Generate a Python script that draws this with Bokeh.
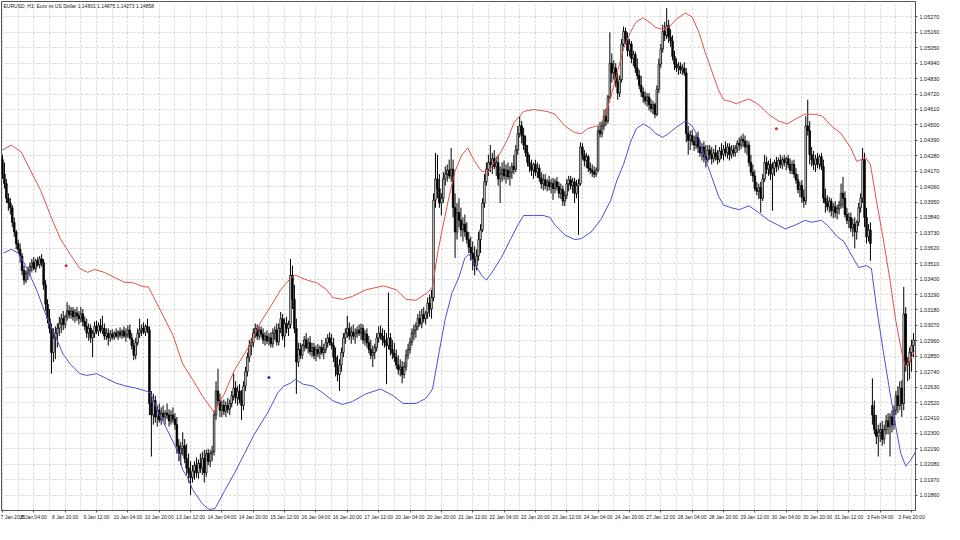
from bokeh.plotting import figure
from bokeh.models import Range1d, FixedTicker, PrintfTickFormatter, Label, ColumnDataSource
from bokeh.embed import file_html
from bokeh.resources import INLINE

# ---------------- data (EURUSD H1) ----------------
opens = [
1.04252, 1.04149, 1.04081, 1.03977, 1.03943, 1.03909, 1.03806, 1.03737, 1.03654, 1.03613,
1.03565, 1.03462, 1.03393, 1.03441, 1.03462, 1.03489, 1.03517, 1.03476, 1.03531, 1.03503,
1.03544, 1.03517, 1.03359, 1.03221, 1.03118, 1.03049, 1.02877, 1.02981, 1.03015, 1.03049,
1.03084, 1.03118, 1.03077, 1.03132, 1.03173, 1.03146, 1.03173, 1.03132, 1.03159, 1.03139,
1.03118, 1.03152, 1.03097, 1.03063, 1.03015, 1.03049, 1.02981, 1.03015, 1.03063, 1.03029,
1.03070, 1.03036, 1.03049, 1.02994, 1.03015, 1.02981, 1.03008, 1.02987, 1.03015, 1.02994,
1.03022, 1.03001, 1.03029, 1.02994, 1.03008, 1.03036, 1.02981, 1.02926, 1.02857, 1.02946,
1.03015, 1.03036, 1.03049, 1.03022, 1.03063, 1.03036, 1.02513, 1.02431, 1.02534, 1.02417,
1.02465, 1.02396, 1.02444, 1.02417, 1.02444, 1.02431, 1.02389, 1.02431, 1.02403, 1.02362,
1.02211, 1.02156, 1.02190, 1.02211, 1.02121, 1.02052, 1.02018, 1.01984, 1.02032, 1.02073,
1.02018, 1.02087, 1.02052, 1.02121, 1.02018, 1.02156, 1.02101, 1.02156, 1.02169, 1.02431,
1.02602, 1.02534, 1.02465, 1.02499, 1.02458, 1.02499, 1.02472, 1.02513, 1.02568, 1.02623,
1.02554, 1.02602, 1.02541, 1.02499, 1.02637, 1.02740, 1.02843, 1.02926, 1.02946, 1.03015,
1.03049, 1.02994, 1.03036, 1.03008, 1.02967, 1.02994, 1.02960, 1.02981, 1.02939, 1.03015,
1.03036, 1.02953, 1.03049, 1.03118, 1.02994, 1.03084, 1.03049, 1.03077, 1.03427, 1.03256,
1.03049, 1.02809, 1.02898, 1.02857, 1.02926, 1.02967, 1.02912, 1.02946, 1.02884, 1.02912,
1.02857, 1.02898, 1.02871, 1.02912, 1.02877, 1.02898, 1.02946, 1.02981, 1.02946, 1.02926,
1.02843, 1.02774, 1.02719, 1.02788, 1.02877, 1.02981, 1.03015, 1.03049, 1.02994, 1.03022,
1.02994, 1.03015, 1.03036, 1.03015, 1.03049, 1.02967, 1.03008, 1.02946, 1.02898, 1.02857,
1.02877, 1.02912, 1.02981, 1.03015, 1.02994, 1.02967, 1.02946, 1.02926, 1.02981, 1.02898,
1.02871, 1.02843, 1.02788, 1.02754, 1.02774, 1.02719, 1.02774, 1.02857, 1.02898, 1.02953,
1.03015, 1.03036, 1.03063, 1.03118, 1.03084, 1.03146, 1.03118, 1.03159, 1.03228, 1.03187,
1.03269, 1.03964, 1.04115, 1.04046, 1.03943, 1.03977, 1.04115, 1.04149, 1.04177, 1.04136,
1.04184, 1.03909, 1.03737, 1.03874, 1.03819, 1.03751, 1.03792, 1.03737, 1.03682, 1.03627,
1.03586, 1.03544, 1.03496, 1.03565, 1.03682, 1.03751, 1.03943, 1.04094, 1.04184, 1.04232,
1.04218, 1.04259, 1.04204, 1.04232, 1.04115, 1.04149, 1.04184, 1.04136, 1.04177, 1.04129,
1.04163, 1.04204, 1.04184, 1.04321, 1.04438, 1.04493, 1.04424, 1.04356, 1.04301, 1.04232,
1.04204, 1.04177, 1.04218, 1.04163, 1.04191, 1.04122, 1.04081, 1.04108, 1.04067, 1.04094,
1.04060, 1.04081, 1.04046, 1.04094, 1.04060, 1.04012, 1.04039, 1.03957, 1.03998, 1.04081,
1.04108, 1.04067, 1.04094, 1.04012, 1.04067, 1.04081, 1.04342, 1.04287, 1.04246, 1.04273,
1.04191, 1.04177, 1.04163, 1.04149, 1.04177, 1.04459, 1.04438, 1.04493, 1.04562, 1.04527,
1.04699, 1.04940, 1.04871, 1.04906, 1.04802, 1.04727, 1.04823, 1.05077, 1.05167, 1.05112,
1.05029, 1.05077, 1.04974, 1.05002, 1.04906, 1.04851, 1.04782, 1.04734, 1.04699, 1.04672,
1.04699, 1.04644, 1.04617, 1.04644, 1.04576, 1.04754, 1.04933, 1.05043, 1.05167, 1.05139,
1.05208, 1.05126, 1.05098, 1.04988, 1.04933, 1.04906, 1.04919, 1.04892, 1.04906, 1.04871,
1.04438, 1.04390, 1.04424, 1.04383, 1.04356, 1.04411, 1.04342, 1.04301, 1.04342, 1.04273,
1.04252, 1.04321, 1.04287, 1.04259, 1.04301, 1.04273, 1.04252, 1.04314, 1.04287, 1.04328,
1.04301, 1.04342, 1.04287, 1.04321, 1.04301, 1.04335, 1.04369, 1.04356, 1.04397, 1.04383,
1.04342, 1.04356, 1.04232, 1.04163, 1.04136, 1.04046, 1.04026, 1.04053, 1.03977, 1.04115,
1.04232, 1.04184, 1.04218, 1.04149, 1.04191, 1.04232, 1.04204, 1.04246, 1.04218, 1.04252,
1.04232, 1.04259, 1.04218, 1.04177, 1.04218, 1.04149, 1.04108, 1.04039, 1.04067, 1.03984,
1.03957, 1.04493, 1.04459, 1.04287, 1.04252, 1.04218, 1.04259, 1.04218, 1.04273, 1.04204,
1.03977, 1.03943, 1.03916, 1.03957, 1.03888, 1.03916, 1.03874, 1.03902, 1.03929, 1.04012,
1.03977, 1.03861, 1.03819, 1.03840, 1.03764, 1.03792, 1.03737, 1.03806, 1.03909, 1.03977,
1.04252, 1.03840, 1.03702, 1.03751, 1.02499, 1.02431, 1.02327, 1.02279, 1.02307, 1.02327,
1.02259, 1.02327, 1.02389, 1.02348, 1.02417, 1.02362, 1.02465, 1.02568, 1.02499, 1.02623,
1.02513, 1.03152, 1.02788, 1.02809, 1.02877, 1.02926,
]
highs = [
1.04287, 1.04232, 1.04115, 1.04012, 1.03977, 1.03929, 1.03840, 1.03751, 1.03682, 1.03654,
1.03586, 1.03496, 1.03462, 1.03489, 1.03517, 1.03544, 1.03558, 1.03544, 1.03558, 1.03565,
1.03579, 1.03544, 1.03393, 1.03256, 1.03187, 1.03084, 1.03049, 1.03063, 1.03084, 1.03132,
1.03152, 1.03173, 1.03146, 1.03235, 1.03214, 1.03201, 1.03201, 1.03187, 1.03201, 1.03173,
1.03201, 1.03187, 1.03132, 1.03118, 1.03084, 1.03077, 1.03036, 1.03097, 1.03104, 1.03091,
1.03118, 1.03139, 1.03084, 1.03049, 1.03049, 1.03036, 1.03042, 1.03029, 1.03049, 1.03036,
1.03056, 1.03042, 1.03063, 1.03049, 1.03070, 1.03077, 1.03015, 1.02967, 1.02981, 1.03049,
1.03118, 1.03077, 1.03091, 1.03077, 1.03118, 1.03063, 1.02602, 1.02582, 1.02568, 1.02499,
1.02513, 1.02486, 1.02499, 1.02465, 1.02513, 1.02472, 1.02465, 1.02486, 1.02444, 1.02417,
1.02259, 1.02238, 1.02307, 1.02259, 1.02224, 1.02156, 1.02101, 1.02073, 1.02101, 1.02128,
1.02114, 1.02156, 1.02169, 1.02183, 1.02183, 1.02190, 1.02183, 1.02211, 1.02465, 1.02671,
1.02761, 1.02582, 1.02534, 1.02541, 1.02527, 1.02554, 1.02541, 1.02602, 1.02726, 1.02671,
1.02637, 1.02651, 1.02609, 1.02671, 1.02774, 1.02877, 1.02967, 1.02981, 1.03049, 1.03084,
1.03077, 1.03063, 1.03063, 1.03049, 1.03022, 1.03036, 1.03015, 1.03022, 1.03049, 1.03063,
1.03084, 1.03084, 1.03166, 1.03152, 1.03118, 1.03132, 1.03104, 1.03544, 1.03496, 1.03359,
1.03118, 1.02946, 1.02946, 1.02939, 1.02994, 1.03015, 1.02981, 1.02994, 1.02946, 1.02946,
1.02926, 1.02939, 1.02926, 1.02967, 1.02939, 1.02981, 1.03008, 1.03022, 1.03008, 1.02981,
1.02912, 1.02857, 1.02829, 1.02912, 1.03015, 1.03049, 1.03139, 1.03091, 1.03063, 1.03077,
1.03049, 1.03063, 1.03077, 1.03084, 1.03077, 1.03036, 1.03049, 1.02994, 1.02967, 1.02926,
1.02939, 1.03015, 1.03063, 1.03070, 1.03049, 1.03036, 1.03015, 1.03304, 1.03015, 1.02967,
1.02946, 1.02898, 1.02857, 1.02829, 1.02816, 1.02809, 1.02898, 1.02939, 1.02981, 1.03049,
1.03077, 1.03091, 1.03152, 1.03173, 1.03187, 1.03201, 1.03173, 1.03269, 1.03290, 1.03324,
1.04012, 1.04301, 1.04287, 1.04149, 1.04012, 1.04163, 1.04204, 1.04218, 1.04252, 1.04335,
1.04252, 1.04012, 1.03943, 1.03977, 1.03909, 1.03840, 1.03861, 1.03806, 1.03737, 1.03702,
1.03668, 1.03634, 1.03613, 1.03737, 1.03792, 1.03977, 1.04149, 1.04232, 1.04287, 1.04356,
1.04301, 1.04321, 1.04273, 1.04287, 1.04204, 1.04232, 1.04246, 1.04218, 1.04232, 1.04204,
1.04232, 1.04287, 1.04356, 1.04493, 1.04562, 1.04527, 1.04479, 1.04424, 1.04356, 1.04287,
1.04252, 1.04232, 1.04252, 1.04232, 1.04218, 1.04163, 1.04149, 1.04149, 1.04115, 1.04136,
1.04115, 1.04122, 1.04115, 1.04129, 1.04094, 1.04081, 1.04067, 1.04026, 1.04115, 1.04136,
1.04136, 1.04122, 1.04122, 1.04108, 1.04115, 1.04376, 1.04369, 1.04321, 1.04301, 1.04287,
1.04232, 1.04218, 1.04204, 1.04197, 1.04493, 1.04521, 1.04521, 1.04610, 1.04617, 1.04713,
1.05160, 1.05009, 1.04961, 1.04940, 1.04871, 1.04851, 1.05112, 1.05201, 1.05194, 1.05160,
1.05112, 1.05098, 1.05029, 1.05022, 1.04974, 1.04892, 1.04851, 1.04768, 1.04741, 1.04727,
1.04727, 1.04686, 1.04672, 1.04658, 1.04782, 1.04974, 1.05077, 1.05215, 1.05236, 1.05332,
1.05249, 1.05181, 1.05139, 1.05029, 1.04974, 1.04947, 1.04947, 1.04933, 1.04947, 1.04906,
1.04493, 1.04459, 1.04466, 1.04424, 1.04438, 1.04452, 1.04390, 1.04369, 1.04383, 1.04356,
1.04356, 1.04356, 1.04342, 1.04328, 1.04356, 1.04321, 1.04342, 1.04369, 1.04356, 1.04383,
1.04369, 1.04369, 1.04356, 1.04356, 1.04356, 1.04390, 1.04411, 1.04424, 1.04438, 1.04424,
1.04390, 1.04383, 1.04287, 1.04218, 1.04177, 1.04094, 1.04081, 1.04094, 1.04149, 1.04287,
1.04273, 1.04246, 1.04259, 1.04232, 1.04252, 1.04273, 1.04266, 1.04287, 1.04273, 1.04287,
1.04273, 1.04287, 1.04259, 1.04246, 1.04252, 1.04191, 1.04149, 1.04094, 1.04108, 1.04039,
1.04562, 1.04679, 1.04527, 1.04342, 1.04314, 1.04287, 1.04301, 1.04287, 1.04301, 1.04252,
1.04046, 1.03998, 1.03984, 1.03977, 1.03943, 1.03957, 1.03929, 1.03957, 1.04081, 1.04129,
1.04026, 1.03909, 1.03874, 1.03874, 1.03833, 1.03840, 1.03819, 1.03943, 1.04012, 1.04335,
1.04301, 1.03909, 1.03792, 1.03806, 1.02692, 1.02534, 1.02431, 1.02362, 1.02376, 1.02389,
1.02362, 1.02431, 1.02444, 1.02444, 1.02465, 1.02499, 1.02602, 1.02637, 1.02671, 1.02678,
1.03345, 1.03201, 1.02843, 1.02912, 1.02967, 1.03015,
]
lows = [
1.04115, 1.04046, 1.03943, 1.03888, 1.03861, 1.03771, 1.03702, 1.03613, 1.03586, 1.03517,
1.03427, 1.03359, 1.03372, 1.03393, 1.03421, 1.03448, 1.03462, 1.03448, 1.03489, 1.03476,
1.03489, 1.03324, 1.03173, 1.03084, 1.03015, 1.02726, 1.02809, 1.02829, 1.02912, 1.02994,
1.03015, 1.03036, 1.03049, 1.03104, 1.03118, 1.03118, 1.03104, 1.03091, 1.03104, 1.03077,
1.03091, 1.03063, 1.03036, 1.02981, 1.02960, 1.02946, 1.02843, 1.02981, 1.03008, 1.02994,
1.03015, 1.03008, 1.02967, 1.02967, 1.02926, 1.02953, 1.02967, 1.02967, 1.02981, 1.02967,
1.02981, 1.02974, 1.02981, 1.02953, 1.02981, 1.02967, 1.02898, 1.02822, 1.02829, 1.02926,
1.02981, 1.02994, 1.03008, 1.02994, 1.03015, 1.02431, 1.02135, 1.02362, 1.02376, 1.02348,
1.02376, 1.02362, 1.02389, 1.02362, 1.02403, 1.02348, 1.02362, 1.02376, 1.02327, 1.02156,
1.02101, 1.02073, 1.02142, 1.02087, 1.02004, 1.01949, 1.01860, 1.01949, 1.01970, 1.01984,
1.01977, 1.02018, 1.02004, 1.01949, 1.01991, 1.02073, 1.02059, 1.02101, 1.02142, 1.02396,
1.02499, 1.02417, 1.02417, 1.02431, 1.02417, 1.02444, 1.02431, 1.02486, 1.02534, 1.02513,
1.02499, 1.02513, 1.02396, 1.02465, 1.02602, 1.02706, 1.02809, 1.02857, 1.02912, 1.02981,
1.02967, 1.02967, 1.02981, 1.02939, 1.02926, 1.02939, 1.02926, 1.02912, 1.02912, 1.02967,
1.02926, 1.02926, 1.03015, 1.02967, 1.02912, 1.03015, 1.02994, 1.03049, 1.03187, 1.03015,
1.02582, 1.02774, 1.02829, 1.02829, 1.02884, 1.02898, 1.02871, 1.02857, 1.02843, 1.02829,
1.02816, 1.02843, 1.02829, 1.02857, 1.02829, 1.02871, 1.02912, 1.02926, 1.02898, 1.02809,
1.02706, 1.02671, 1.02602, 1.02740, 1.02843, 1.02939, 1.02981, 1.02967, 1.02939, 1.02967,
1.02939, 1.02981, 1.02994, 1.02967, 1.02939, 1.02926, 1.02912, 1.02871, 1.02829, 1.02774,
1.02829, 1.02884, 1.02946, 1.02967, 1.02926, 1.02912, 1.02651, 1.02898, 1.02857, 1.02829,
1.02809, 1.02761, 1.02719, 1.02706, 1.02657, 1.02692, 1.02747, 1.02829, 1.02871, 1.02926,
1.02967, 1.02981, 1.03036, 1.03063, 1.03049, 1.03091, 1.03077, 1.03118, 1.03132, 1.03118,
1.03242, 1.03909, 1.03977, 1.03909, 1.03854, 1.03943, 1.04067, 1.04094, 1.04115, 1.04094,
1.03840, 1.03551, 1.03682, 1.03771, 1.03702, 1.03668, 1.03702, 1.03654, 1.03586, 1.03531,
1.03462, 1.03427, 1.03462, 1.03531, 1.03586, 1.03737, 1.03909, 1.04067, 1.04136, 1.04163,
1.04149, 1.04184, 1.04136, 1.04067, 1.03943, 1.04094, 1.04108, 1.04081, 1.04108, 1.04067,
1.04115, 1.04149, 1.04163, 1.04287, 1.04411, 1.04369, 1.04321, 1.04273, 1.04204, 1.04163,
1.04136, 1.04115, 1.04136, 1.04122, 1.04094, 1.04046, 1.04032, 1.04039, 1.04026, 1.04032,
1.04012, 1.03964, 1.04012, 1.04032, 1.03977, 1.03971, 1.03922, 1.03922, 1.03971, 1.04026,
1.04039, 1.04012, 1.03943, 1.03977, 1.03716, 1.04067, 1.04252, 1.04204, 1.04191, 1.04163,
1.04149, 1.04129, 1.04122, 1.04129, 1.04163, 1.04411, 1.04411, 1.04466, 1.04493, 1.04507,
1.04686, 1.04802, 1.04823, 1.04768, 1.04679, 1.04699, 1.04802, 1.05057, 1.05077, 1.04988,
1.04988, 1.04940, 1.04919, 1.04871, 1.04823, 1.04754, 1.04699, 1.04658, 1.04644, 1.04631,
1.04603, 1.04589, 1.04576, 1.04548, 1.04562, 1.04727, 1.04906, 1.05016, 1.05098, 1.05112,
1.05084, 1.05057, 1.04961, 1.04892, 1.04878, 1.04857, 1.04864, 1.04857, 1.04851, 1.04376,
1.04287, 1.04321, 1.04356, 1.04314, 1.04328, 1.04301, 1.04273, 1.04246, 1.04232, 1.04197,
1.04232, 1.04252, 1.04218, 1.04232, 1.04246, 1.04218, 1.04232, 1.04259, 1.04246, 1.04273,
1.04259, 1.04246, 1.04259, 1.04273, 1.04273, 1.04301, 1.04314, 1.04328, 1.04342, 1.04301,
1.04287, 1.04204, 1.04136, 1.04094, 1.04026, 1.03998, 1.03971, 1.03874, 1.03957, 1.04094,
1.04149, 1.04136, 1.04108, 1.03888, 1.04136, 1.04163, 1.04177, 1.04191, 1.04184, 1.04204,
1.04177, 1.04191, 1.04149, 1.04149, 1.04122, 1.04081, 1.04012, 1.03984, 1.03943, 1.03909,
1.03929, 1.04424, 1.04218, 1.04204, 1.04177, 1.04163, 1.04191, 1.04184, 1.04177, 1.03943,
1.03874, 1.03888, 1.03874, 1.03847, 1.03833, 1.03840, 1.03826, 1.03861, 1.03902, 1.03909,
1.03840, 1.03792, 1.03764, 1.03737, 1.03702, 1.03620, 1.03682, 1.03778, 1.03874, 1.03943,
1.03771, 1.03654, 1.03668, 1.03531, 1.02362, 1.02293, 1.02224, 1.02135, 1.02238, 1.02211,
1.02224, 1.02293, 1.02293, 1.02135, 1.02307, 1.02327, 1.02431, 1.02444, 1.02465, 1.02417,
1.02465, 1.02740, 1.02671, 1.02685, 1.02740, 1.02843,
]
closes = [
1.04149, 1.04081, 1.03977, 1.03943, 1.03909, 1.03806, 1.03737, 1.03654, 1.03613, 1.03565,
1.03462, 1.03393, 1.03441, 1.03462, 1.03489, 1.03517, 1.03476, 1.03531, 1.03503, 1.03544,
1.03517, 1.03359, 1.03221, 1.03118, 1.03049, 1.02877, 1.02981, 1.03015, 1.03049, 1.03084,
1.03118, 1.03077, 1.03132, 1.03173, 1.03146, 1.03173, 1.03132, 1.03159, 1.03139, 1.03118,
1.03152, 1.03097, 1.03063, 1.03015, 1.03049, 1.02981, 1.03015, 1.03063, 1.03029, 1.03070,
1.03036, 1.03049, 1.02994, 1.03015, 1.02981, 1.03008, 1.02987, 1.03015, 1.02994, 1.03022,
1.03001, 1.03029, 1.02994, 1.03008, 1.03036, 1.02981, 1.02926, 1.02857, 1.02946, 1.03015,
1.03036, 1.03049, 1.03022, 1.03063, 1.03036, 1.02513, 1.02431, 1.02534, 1.02417, 1.02465,
1.02396, 1.02444, 1.02417, 1.02444, 1.02431, 1.02389, 1.02431, 1.02403, 1.02362, 1.02211,
1.02156, 1.02190, 1.02211, 1.02121, 1.02052, 1.02018, 1.01984, 1.02032, 1.02073, 1.02018,
1.02087, 1.02052, 1.02121, 1.02018, 1.02156, 1.02101, 1.02156, 1.02169, 1.02431, 1.02602,
1.02534, 1.02465, 1.02499, 1.02458, 1.02499, 1.02472, 1.02513, 1.02568, 1.02623, 1.02554,
1.02602, 1.02541, 1.02499, 1.02637, 1.02740, 1.02843, 1.02926, 1.02946, 1.03015, 1.03049,
1.02994, 1.03036, 1.03008, 1.02967, 1.02994, 1.02960, 1.02981, 1.02939, 1.03015, 1.03036,
1.02953, 1.03049, 1.03118, 1.02994, 1.03084, 1.03049, 1.03077, 1.03427, 1.03256, 1.03049,
1.02809, 1.02898, 1.02857, 1.02926, 1.02967, 1.02912, 1.02946, 1.02884, 1.02912, 1.02857,
1.02898, 1.02871, 1.02912, 1.02877, 1.02898, 1.02946, 1.02981, 1.02946, 1.02926, 1.02843,
1.02774, 1.02719, 1.02788, 1.02877, 1.02981, 1.03015, 1.03049, 1.02994, 1.03022, 1.02994,
1.03015, 1.03036, 1.03015, 1.03049, 1.02967, 1.03008, 1.02946, 1.02898, 1.02857, 1.02877,
1.02912, 1.02981, 1.03015, 1.02994, 1.02967, 1.02946, 1.02926, 1.02981, 1.02898, 1.02871,
1.02843, 1.02788, 1.02754, 1.02774, 1.02719, 1.02774, 1.02857, 1.02898, 1.02953, 1.03015,
1.03036, 1.03063, 1.03118, 1.03084, 1.03146, 1.03118, 1.03159, 1.03228, 1.03187, 1.03269,
1.03964, 1.04115, 1.04046, 1.03943, 1.03977, 1.04115, 1.04149, 1.04177, 1.04136, 1.04184,
1.03909, 1.03737, 1.03874, 1.03819, 1.03751, 1.03792, 1.03737, 1.03682, 1.03627, 1.03586,
1.03544, 1.03496, 1.03565, 1.03682, 1.03751, 1.03943, 1.04094, 1.04184, 1.04232, 1.04218,
1.04259, 1.04204, 1.04232, 1.04115, 1.04149, 1.04184, 1.04136, 1.04177, 1.04129, 1.04163,
1.04204, 1.04184, 1.04321, 1.04438, 1.04493, 1.04424, 1.04356, 1.04301, 1.04232, 1.04204,
1.04177, 1.04218, 1.04163, 1.04191, 1.04122, 1.04081, 1.04108, 1.04067, 1.04094, 1.04060,
1.04081, 1.04046, 1.04094, 1.04060, 1.04012, 1.04039, 1.03957, 1.03998, 1.04081, 1.04108,
1.04067, 1.04094, 1.04012, 1.04067, 1.04081, 1.04342, 1.04287, 1.04246, 1.04273, 1.04191,
1.04177, 1.04163, 1.04149, 1.04177, 1.04459, 1.04438, 1.04493, 1.04562, 1.04527, 1.04699,
1.04940, 1.04871, 1.04906, 1.04802, 1.04727, 1.04823, 1.05077, 1.05167, 1.05112, 1.05029,
1.05077, 1.04974, 1.05002, 1.04906, 1.04851, 1.04782, 1.04734, 1.04699, 1.04672, 1.04699,
1.04644, 1.04617, 1.04644, 1.04576, 1.04754, 1.04933, 1.05043, 1.05167, 1.05139, 1.05208,
1.05126, 1.05098, 1.04988, 1.04933, 1.04906, 1.04919, 1.04892, 1.04906, 1.04871, 1.04438,
1.04390, 1.04424, 1.04383, 1.04356, 1.04411, 1.04342, 1.04301, 1.04342, 1.04273, 1.04252,
1.04321, 1.04287, 1.04259, 1.04301, 1.04273, 1.04252, 1.04314, 1.04287, 1.04328, 1.04301,
1.04342, 1.04287, 1.04321, 1.04301, 1.04335, 1.04369, 1.04356, 1.04397, 1.04383, 1.04342,
1.04356, 1.04232, 1.04163, 1.04136, 1.04046, 1.04026, 1.04053, 1.03977, 1.04115, 1.04232,
1.04184, 1.04218, 1.04149, 1.04191, 1.04232, 1.04204, 1.04246, 1.04218, 1.04252, 1.04232,
1.04259, 1.04218, 1.04177, 1.04218, 1.04149, 1.04108, 1.04039, 1.04067, 1.03984, 1.03957,
1.04493, 1.04459, 1.04287, 1.04252, 1.04218, 1.04259, 1.04218, 1.04273, 1.04204, 1.03977,
1.03943, 1.03916, 1.03957, 1.03888, 1.03916, 1.03874, 1.03902, 1.03929, 1.04012, 1.03977,
1.03861, 1.03819, 1.03840, 1.03764, 1.03792, 1.03737, 1.03806, 1.03909, 1.03977, 1.04252,
1.03840, 1.03702, 1.03751, 1.03654, 1.02431, 1.02327, 1.02279, 1.02307, 1.02327, 1.02259,
1.02327, 1.02389, 1.02348, 1.02417, 1.02362, 1.02465, 1.02568, 1.02499, 1.02623, 1.02513,
1.03152, 1.02788, 1.02809, 1.02877, 1.02926, 1.02967,
]

# envelope lines (read at bar positions)
upper_x = [0, 4.5, 9.5, 14.5, 19.5, 24.5, 29.5, 34.5, 39.5, 43.5, 47, 52, 57, 62, 67, 72, 74.5, 77,
           82, 87, 92, 97, 102, 108, 113.5, 118.5, 125.5, 132, 137, 142, 147, 149.5, 155.5, 160.5,
           165.5, 168.5, 173.5, 178.5, 185.5, 194.5, 201, 206, 211, 217, 219.5, 222, 224.5, 228,
           231, 234.5, 237.5, 241, 244.5, 248, 251, 254.5, 258, 261, 266, 271, 278, 282, 287, 292,
           295.5, 298.5, 303.5, 307, 310.5, 313.5, 317, 320.5, 323.5, 327, 330.5, 333.5, 337,
           340.5, 343.5, 348.5, 352, 355.5, 358.5, 362, 365.5, 368, 372, 374.5, 381, 386, 391,
           396, 400.5, 405.5, 409.5, 414.5, 418.5, 423, 428, 433, 436, 440.5, 443, 446, 449.5,
           453, 456, 459.5, 461, 463, 465.5]
upper_y = [1.04321, 1.04356, 1.04308, 1.04170, 1.04033, 1.03854, 1.03689, 1.03579, 1.03476, 1.03448,
           1.03469, 1.03448, 1.03414, 1.03379, 1.03373, 1.03345, 1.03345, 1.03276, 1.03139, 1.03001,
           1.02795, 1.02685, 1.02568, 1.02451, 1.02589, 1.02754, 1.02912, 1.03098, 1.03208, 1.03324,
           1.03407, 1.03428, 1.03393, 1.03373, 1.03324, 1.03269, 1.03256, 1.03276, 1.03324, 1.03352,
           1.03324, 1.03256, 1.03249, 1.03304, 1.03345, 1.03579, 1.03758, 1.03991, 1.04170, 1.04287,
           1.04335, 1.04239, 1.04170, 1.04163, 1.04232, 1.04308, 1.04404, 1.04514, 1.04596, 1.04610,
           1.04596, 1.04576, 1.04493, 1.04445, 1.04438, 1.04473, 1.04493, 1.04541, 1.04699, 1.04858,
           1.05043, 1.05160, 1.05236, 1.05263, 1.05229, 1.05194, 1.05181, 1.05201, 1.05249, 1.05298,
           1.05270, 1.05160, 1.05023, 1.04885, 1.04748, 1.04679, 1.04665, 1.04651, 1.04686, 1.04644,
           1.04576, 1.04528, 1.04507, 1.04548, 1.04576, 1.04576, 1.04562, 1.04493, 1.04438, 1.04335,
           1.04239, 1.04266, 1.04218, 1.03964, 1.03689, 1.03393, 1.03098, 1.02843, 1.02774, 1.02809,
           1.02891]
lower_x = [0.5, 4.5, 8, 11, 14.5, 18, 21, 24.5, 28, 31, 34.5, 39.5, 43, 48, 53, 58, 63, 68, 73, 75.5,
           79.5, 84.5, 89.5, 92, 94.5, 97, 102, 105.5, 108.5, 113.5, 118.5, 123.5, 128.5, 135.5,
           140.5, 143.5, 147, 149.5, 153.5, 158.5, 163.5, 168.5, 173.5, 178.5, 185.5, 193, 199.5,
           204.5, 211, 216, 219.5, 223, 226, 229.5, 233, 236, 238, 241, 244.5, 247, 250.5, 254.5,
           259.5, 263, 266, 271, 276, 279.5, 282, 287, 292, 295.5, 300.5, 305.5, 310.5, 313.5, 317,
           320.5, 323.5, 327, 330.5, 333.5, 337, 340.5, 343.5, 348.5, 352, 355.5, 358.5, 362, 365.5,
           368, 372, 376, 381, 386, 391, 396, 399.5, 404.5, 409.5, 413, 418, 421, 426, 429.5, 433,
           437, 441, 443.5, 446, 449.5, 453, 456, 458.5, 461, 463.5, 466]
lower_y = [1.03586, 1.03613, 1.03586, 1.03517, 1.03414, 1.03304, 1.03187, 1.03070, 1.02960, 1.02864,
           1.02795, 1.02726, 1.02713, 1.02726, 1.02692, 1.02658, 1.02637, 1.02623, 1.02603, 1.02589,
           1.02451, 1.02314, 1.02169, 1.02039, 1.01984, 1.01901, 1.01798, 1.01757, 1.01764, 1.01894,
           1.02018, 1.02156, 1.02293, 1.02451, 1.02589, 1.02637, 1.02658, 1.02685, 1.02651, 1.02637,
           1.02589, 1.02534, 1.02506, 1.02527, 1.02582, 1.02616, 1.02568, 1.02513, 1.02513, 1.02548,
           1.02616, 1.02891, 1.03118, 1.03304, 1.03414, 1.03551, 1.03579, 1.03510, 1.03428, 1.03393,
           1.03462, 1.03551, 1.03689, 1.03785, 1.03854, 1.03854, 1.03854, 1.03840, 1.03785, 1.03716,
           1.03682, 1.03689, 1.03737, 1.03827, 1.03964, 1.04101, 1.04218, 1.04376, 1.04473, 1.04507,
           1.04479, 1.04438, 1.04411, 1.04445, 1.04479, 1.04528, 1.04493, 1.04404, 1.04266, 1.04129,
           1.03991, 1.03929, 1.03909, 1.03895, 1.03923, 1.03874, 1.03819, 1.03785, 1.03758, 1.03785,
           1.03819, 1.03806, 1.03819, 1.03785, 1.03703, 1.03668, 1.03579, 1.03483, 1.03496, 1.03476,
           1.03208, 1.02891, 1.02589, 1.02341, 1.02156, 1.02066, 1.02108, 1.02169]

dot_x = [32.5, 136, 395]
dot_y = [1.03496, 1.02699, 1.04473]
dot_colors = ["#d42a2a", "#2a2ad4", "#d42a2a"]

x_tick_bars = [0, 16, 32, 48, 64, 80, 96, 112, 128, 144, 160, 176, 192, 208, 224, 240, 256, 272,
               288, 304, 320, 336, 352, 368, 384, 400, 416, 432, 448, 464]
x_tick_labels = ["7 Jan 2025", "8 Jan 04:00", "8 Jan 20:00", "9 Jan 12:00", "10 Jan 04:00",
                 "10 Jan 20:00", "13 Jan 12:00", "14 Jan 04:00", "14 Jan 20:00", "15 Jan 12:00",
                 "16 Jan 04:00", "16 Jan 20:00", "17 Jan 12:00", "20 Jan 04:00", "20 Jan 20:00",
                 "21 Jan 12:00", "22 Jan 04:00", "22 Jan 20:00", "23 Jan 12:00", "24 Jan 04:00",
                 "24 Jan 20:00", "27 Jan 12:00", "28 Jan 04:00", "28 Jan 20:00", "29 Jan 12:00",
                 "30 Jan 04:00", "30 Jan 20:00", "31 Jan 12:00", "3 Feb 04:00", "3 Feb 20:00"]
y_ticks = [1.01860, 1.01970, 1.02080, 1.02190, 1.02300, 1.02410, 1.02520, 1.02630, 1.02740,
           1.02850, 1.02960, 1.03070, 1.03180, 1.03290, 1.03400, 1.03510, 1.03620, 1.03730,
           1.03840, 1.03950, 1.04060, 1.04170, 1.04280, 1.04390, 1.04500, 1.04610, 1.04720,
           1.04830, 1.04940, 1.05050, 1.05160, 1.05270]
title_text = "EURUSD, H1:  Euro vs US Dollar  1.14801 1.14875 1.14273 1.14858"

# ---------------- figure ----------------
FONT = "Liberation Sans Narrow, Liberation Sans, sans-serif"
FRAME = "#555555"

p = figure(width=942, height=522, x_range=Range1d(-0.5, 466), y_range=Range1d(1.01750, 1.05380),
           y_axis_location="right", output_backend="svg", toolbar_location=None,
           min_border_left=1, min_border_right=26, min_border_top=1, min_border_bottom=11,
           background_fill_color="white", border_fill_color="white")
p.outline_line_color = FRAME
p.outline_line_width = 1

# grid
p.xgrid.ticker = FixedTicker(ticks=list(range(0, 466, 8)))
p.ygrid.ticker = FixedTicker(ticks=y_ticks)
for g in (p.xgrid[0], p.ygrid[0]):
    g.grid_line_color = "#d2d2d2"
    g.grid_line_dash = "2 2"
    g.grid_line_width = 1

# axes
xa = p.xaxis[0]
xa.ticker = FixedTicker(ticks=x_tick_bars)
xa.major_label_overrides = {t: lab for t, lab in zip(x_tick_bars, x_tick_labels)}
xa.major_label_text_align = "left"
xa.major_label_standoff = 1
xa.major_label_text_font_size = "5px"
ya = p.yaxis[0]
ya.ticker = FixedTicker(ticks=y_ticks)
ya.formatter = PrintfTickFormatter(format="%.5f")
ya.major_label_standoff = 2
ya.major_label_text_font_size = "5.5px"
for ax in (xa, ya):
    ax.major_label_text_font = FONT
    ax.major_label_text_color = "#202020"
    ax.axis_line_color = FRAME
    ax.major_tick_line_color = FRAME
    ax.major_tick_out = 2
    ax.major_tick_in = 0
    ax.minor_tick_out = 0
    ax.minor_tick_in = 0

# candles
n = len(closes)
xs = list(range(n))
src = ColumnDataSource(dict(
    x=xs, o=opens, h=highs, l=lows, c=closes,
    top=[max(o, c) for o, c in zip(opens, closes)],
    bottom=[min(o, c) for o, c in zip(opens, closes)],
    fill=["white" if c > o else "black" for o, c in zip(opens, closes)],
))
p.segment(x0="x", y0="l", x1="x", y1="h", source=src, line_color="black", line_width=1)
p.vbar(x="x", width=0.8, top="top", bottom="bottom", source=src,
       fill_color="fill", line_color="black", line_width=0.8)

# envelopes
p.line(upper_x, upper_y, line_color="#e25050", line_width=1)
p.line(lower_x, lower_y, line_color="#5050d8", line_width=1)
p.scatter(dot_x, dot_y, size=3, color=dot_colors, line_color=None)

p.add_layout(Label(x=0.5, y=1.05346, text=title_text, text_font=FONT, text_font_size="5px",
                   text_color="#202020", text_baseline="middle"))

open("out.html", "w").write(file_html(p, INLINE))
